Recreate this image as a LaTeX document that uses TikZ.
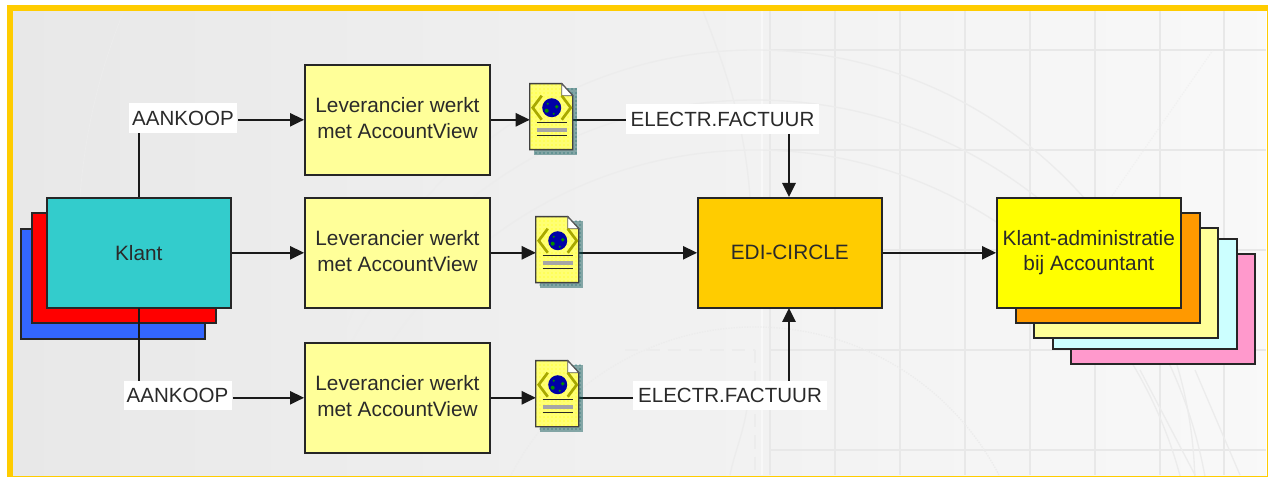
\documentclass[tikz,border=0pt]{standalone}
\usepackage{fontspec}
\setmainfont{Liberation Sans}
\usetikzlibrary{arrows.meta,patterns}
\definecolor{frameY}{HTML}{FFCC00}
\definecolor{txt}{HTML}{2A2A2A}
\definecolor{lightY}{HTML}{FFFF99}
\definecolor{pureY}{HTML}{FFFF00}
\definecolor{gridc}{HTML}{E8E8E8}
\definecolor{arcc}{HTML}{ECECEC}
\definecolor{olv}{HTML}{A8A800}
\tikzset{x=0.75pt,y=-0.75pt,
 box/.style={draw=black!85,line width=1.2pt,anchor=north west,inner sep=0pt,align=center,text=txt,
   minimum width=138pt,minimum height=82.5pt,font=\fontsize{15.6}{19.2}\selectfont},
 lab/.style={fill=white,inner sep=0pt,text=txt,minimum height=22pt,font=\fontsize{15.4}{16}\selectfont},
 conn/.style={draw=black!90,line width=1.2pt},
 arr/.style={conn,-{Triangle[length=10.5pt,width=10pt]}},
 gridl/.style={draw=gridc,line width=1pt},
 arcl/.style={draw=arcc,line width=1pt},
 iconspot/.style={inner sep=0pt,minimum width=32.25pt,minimum height=49.5pt}}
\newcommand{\docicon}[1]{%
 \begin{scope}[shift={(#1.north west)}]
 \fill[pattern=dots,pattern color=teal!80!black] (4,4) rectangle (47,71);
 \fill[teal!60!black,opacity=.45] (4,4) rectangle (47,71);
 \fill[white] (0,0) -- (32,0) -- (43,12) -- (43,66) -- (0,66) -- cycle;
 \fill[pureY!55!white] (0,0) -- (32,0) -- (43,12) -- (43,66) -- (0,66) -- cycle;
 \fill[pattern=dots,pattern color=pureY] (0,0) -- (32,0) -- (43,12) -- (43,66) -- (0,66) -- cycle;
 \draw[black!75,line width=1.1pt] (0,0) -- (32,0) -- (43,12) -- (43,66) -- (0,66) -- cycle;
 \filldraw[draw=black!65,fill=white,line width=.7pt] (32,0) -- (32,12) -- (43,12) -- cycle;
 \draw[olv,line width=2pt] (12,12) -- (3,24) -- (12,36);
 \draw[olv,line width=2pt] (32,12) -- (41,24) -- (32,36);
 \fill[blue!65!black] (22,24) circle (9.5);
 \fill[green!55!black] (17,27) circle (2) (27,23) circle (1.8) (18,20) circle (1.2) (24,30) circle (1.2);
 \draw[black!85,line width=1.1pt] (7,39) -- (37,39) (7,52) -- (37,52);
 \draw[black!35,line width=2.8pt] (7,46) -- (37,46);
 \end{scope}}
\begin{document}
\begin{tikzpicture}
\useasboundingbox (0,0) rectangle (1268,477);
\fill[white] (0,0) rectangle (1268,477);
% background
\shade[left color=black!9,right color=black!2.5] (9,9) rectangle (1266,475);
\begin{scope}
\clip (9,9) rectangle (1266,475);
\foreach \x in {770,835,900,965,1030,1095,1160,1224} \draw[gridl] (\x,11) -- (\x,475);
\foreach \y in {50,150,250,350,450} \draw[gridl] (770,\y) -- (1266,\y);
\draw[white,line width=2.2pt,opacity=.5] (762,11) -- (762,475);
\draw[arcl,dash pattern=on 10pt off 6pt] (625,350) -- (755,350);
\draw[arcl,dash pattern=on 10pt off 6pt] (755,350) -- (755,475);
\draw[arcl] (755,490) circle (440);
\draw[arcl] (755,557) circle (457);
\draw[arcl] (755,590) circle (440);
\draw[arcl,densely dotted] (755,602) circle (275);
\draw[arcl,line width=.6pt] (123,13) .. controls (100,70) and (85,130) .. (80,197);
\draw[arcl] (703,11) .. controls (730,80) and (745,130) .. (750,197);
\draw[arcl] (730,475) .. controls (735,450) and (745,430) .. (748,400);
\draw[arcl,densely dotted,opacity=.5] (1213,50) -- (1040,300);
\draw[arcl] (1140,370) -- (1195,475);
\draw[arcl] (1195,370) -- (1240,475);
\end{scope}
\fill[frameY] (7,5) rectangle (1268,11);
\fill[frameY] (7,5) rectangle (13,477);
\fill[frameY] (1266.5,5) rectangle (1268,477);
\fill[frameY] (7,475.5) rectangle (1268,477);
% Stacks
\node[box,fill={rgb,255:red,51;green,102;blue,255}] (k3) at (20,228) {};
\node[box,fill=red] (k2) at (31,212) {};
\node[box,fill={rgb,255:red,51;green,204;blue,204}] (klant) at (46,197) {Klant};
\node[box,fill={rgb,255:red,255;green,153;blue,204}] (a5) at (1070,253) {};
\node[box,fill={rgb,255:red,204;green,255;blue,255}] (a4) at (1052,238) {};
\node[box,fill=lightY] (a3) at (1033,227) {};
\node[box,fill={rgb,255:red,255;green,153;blue,0}] (a2) at (1015,212) {};
\node[box,fill=pureY] (adm) at (996,197) {Klant-administratie\\bij Accountant\rule[-3pt]{0pt}{0pt}};
\node[box,fill=lightY,minimum width=139pt] (l1) at (304,64) {Leverancier werkt\\met AccountView\rule[-3pt]{0pt}{0pt}};
\node[box,fill=lightY,minimum width=139pt] (l2) at (304,197) {Leverancier werkt\\met AccountView\rule[-3pt]{0pt}{0pt}};
\node[box,fill=lightY,minimum width=139pt] (l3) at (304,342) {Leverancier werkt\\met AccountView\rule[-3pt]{0pt}{0pt}};
\node[box,fill=frameY,minimum width=138pt] (edi) at (697,197) {EDI-CIRCLE};
% labels
\node[lab,minimum width=81pt] (ak1) at (183,118) {AANKOOP};
\node[lab,minimum width=81pt] (ak2) at (177.5,395.5) {AANKOOP};
\node[lab,minimum width=145pt] (ef1) at (722.5,119) {ELECTR.FACTUUR};
\node[lab,minimum width=145pt] (ef2) at (730,395.5) {ELECTR.FACTUUR};
\node[iconspot] (d1) at (551.5,117) {};
\node[iconspot] (d2) at (557.5,250) {};
\node[iconspot] (d3) at (557.5,394) {};
\coordinate (k1t) at (139,197);
\coordinate (k1b) at (139,308);
\coordinate (e1) at (789,197);
\coordinate (e2) at (789,308);
% connectors
\draw[conn] (k1t) -- (k1t|-ak1.south);
\draw[conn] (k1b) -- (k1b|-ak2.north);
\draw[arr] (ak1.east|-l1.west) ++(1,0) -- (l1.west);
\draw[arr] (ak2.east|-l3.west) ++(1,0) -- (l3.west);
\draw[arr] (klant.east) -- (l2.west);
\draw[arr] (l1.east) -- (l1.east-|d1.west);
\draw[arr] (l2.east) -- (l2.east-|d2.west);
\draw[arr] (l3.east) -- (l3.east-|d3.west);
\draw[conn] (d1.east|-l1.east) -- (ef1.west|-l1.east);
\draw[arr] (d2.east|-edi.west) -- (edi.west);
\draw[conn] (d3.east|-l3.east) -- (ef2.west|-l3.east);
\draw[arr] (ef1.south-|e1) -- (e1);
\draw[arr] (ef2.north-|e2) -- (e2);
\draw[arr] (edi.east) -- (adm.west);
% icons
\docicon{d1}
\docicon{d2}
\docicon{d3}
\end{tikzpicture}
\end{document}
